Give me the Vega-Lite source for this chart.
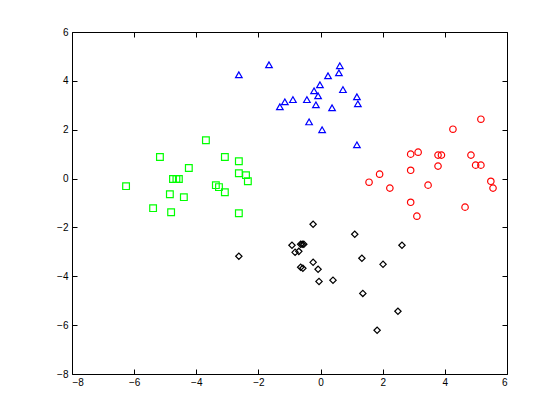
{
  "$schema": "https://vega.github.io/schema/vega-lite/v6.json",
  "width": 435,
  "height": 342,
  "autosize": {"type": "none"},
  "padding": {"left": 72, "top": 32, "right": 53, "bottom": 46},
  "background": "white",
  "config": {
    "view": {"stroke": "black", "strokeWidth": 1},
    "axis": {
      "domain": false,
      "grid": false,
      "tickColor": "black",
      "tickSize": -5,
      "labelFont": "Liberation Sans",
      "labelFontSize": 10,
      "labelColor": "black",
      "title": null
    }
  },
  "data": {
    "values": [
      {"x": -3.69, "y": 1.57, "g": "sq"},
      {"x": -5.17, "y": 0.88, "g": "sq"},
      {"x": -3.08, "y": 0.88, "g": "sq"},
      {"x": -2.63, "y": 0.71, "g": "sq"},
      {"x": -4.24, "y": 0.43, "g": "sq"},
      {"x": -2.63, "y": 0.22, "g": "sq"},
      {"x": -2.40, "y": 0.14, "g": "sq"},
      {"x": -2.34, "y": -0.11, "g": "sq"},
      {"x": -4.75, "y": -0.02, "g": "sq"},
      {"x": -4.64, "y": -0.02, "g": "sq"},
      {"x": -4.56, "y": -0.02, "g": "sq"},
      {"x": -6.26, "y": -0.31, "g": "sq"},
      {"x": -3.37, "y": -0.27, "g": "sq"},
      {"x": -3.27, "y": -0.35, "g": "sq"},
      {"x": -3.08, "y": -0.56, "g": "sq"},
      {"x": -4.85, "y": -0.64, "g": "sq"},
      {"x": -4.40, "y": -0.76, "g": "sq"},
      {"x": -5.39, "y": -1.21, "g": "sq"},
      {"x": -4.81, "y": -1.38, "g": "sq"},
      {"x": -2.63, "y": -1.42, "g": "sq"},
      {"x": -1.66, "y": 4.66, "g": "tri"},
      {"x": -2.63, "y": 4.25, "g": "tri"},
      {"x": 0.62, "y": 4.62, "g": "tri"},
      {"x": 0.59, "y": 4.33, "g": "tri"},
      {"x": 0.24, "y": 4.21, "g": "tri"},
      {"x": -0.02, "y": 3.84, "g": "tri"},
      {"x": -0.21, "y": 3.59, "g": "tri"},
      {"x": 0.72, "y": 3.64, "g": "tri"},
      {"x": -0.08, "y": 3.39, "g": "tri"},
      {"x": 1.17, "y": 3.35, "g": "tri"},
      {"x": 1.20, "y": 3.06, "g": "tri"},
      {"x": -0.89, "y": 3.23, "g": "tri"},
      {"x": -1.15, "y": 3.14, "g": "tri"},
      {"x": -1.31, "y": 2.94, "g": "tri"},
      {"x": -0.44, "y": 3.23, "g": "tri"},
      {"x": -0.15, "y": 3.02, "g": "tri"},
      {"x": 0.37, "y": 2.90, "g": "tri"},
      {"x": -0.37, "y": 2.32, "g": "tri"},
      {"x": 0.05, "y": 2.00, "g": "tri"},
      {"x": 1.17, "y": 1.38, "g": "tri"},
      {"x": 5.16, "y": 2.43, "g": "cir"},
      {"x": 4.26, "y": 2.02, "g": "cir"},
      {"x": 2.90, "y": 1.00, "g": "cir"},
      {"x": 3.14, "y": 1.08, "g": "cir"},
      {"x": 3.78, "y": 0.96, "g": "cir"},
      {"x": 3.89, "y": 0.96, "g": "cir"},
      {"x": 4.84, "y": 0.96, "g": "cir"},
      {"x": 4.99, "y": 0.55, "g": "cir"},
      {"x": 5.16, "y": 0.55, "g": "cir"},
      {"x": 3.78, "y": 0.51, "g": "cir"},
      {"x": 2.90, "y": 0.34, "g": "cir"},
      {"x": 1.90, "y": 0.18, "g": "cir"},
      {"x": 1.56, "y": -0.15, "g": "cir"},
      {"x": 2.23, "y": -0.39, "g": "cir"},
      {"x": 3.46, "y": -0.27, "g": "cir"},
      {"x": 5.48, "y": -0.11, "g": "cir"},
      {"x": 5.55, "y": -0.39, "g": "cir"},
      {"x": 2.90, "y": -0.97, "g": "cir"},
      {"x": 4.65, "y": -1.17, "g": "cir"},
      {"x": 3.10, "y": -1.54, "g": "cir"},
      {"x": -0.24, "y": -1.87, "g": "dia"},
      {"x": 1.10, "y": -2.28, "g": "dia"},
      {"x": 2.62, "y": -2.73, "g": "dia"},
      {"x": -0.92, "y": -2.73, "g": "dia"},
      {"x": -0.64, "y": -2.69, "g": "dia"},
      {"x": -0.59, "y": -2.69, "g": "dia"},
      {"x": -0.54, "y": -2.69, "g": "dia"},
      {"x": -0.82, "y": -3.02, "g": "dia"},
      {"x": -0.70, "y": -2.98, "g": "dia"},
      {"x": -2.63, "y": -3.18, "g": "dia"},
      {"x": 1.33, "y": -3.26, "g": "dia"},
      {"x": -0.24, "y": -3.43, "g": "dia"},
      {"x": 2.01, "y": -3.51, "g": "dia"},
      {"x": -0.08, "y": -3.71, "g": "dia"},
      {"x": -0.64, "y": -3.63, "g": "dia"},
      {"x": -0.57, "y": -3.67, "g": "dia"},
      {"x": -0.05, "y": -4.21, "g": "dia"},
      {"x": 0.40, "y": -4.16, "g": "dia"},
      {"x": 1.36, "y": -4.70, "g": "dia"},
      {"x": 2.49, "y": -5.43, "g": "dia"},
      {"x": 1.82, "y": -6.21, "g": "dia"}
    ]
  },
  "layer": [
    {
      "mark": {"type": "point", "filled": false, "strokeWidth": 1.2, "opacity": 1},
      "encoding": {
        "x": {"field": "x", "type": "quantitative", "scale": {"domain": [-8, 6], "nice": false, "zero": false},
              "axis": {"orient": "bottom", "values": [-8, -6, -4, -2, 0, 2, 4, 6], "labelPadding": 8}},
        "y": {"field": "y", "type": "quantitative", "scale": {"domain": [-8, 6], "nice": false, "zero": false},
              "axis": {"orient": "left", "values": [-8, -6, -4, -2, 0, 2, 4, 6], "labelPadding": 9}},
        "shape": {"field": "g", "type": "nominal", "legend": null,
                  "scale": {"domain": ["sq", "tri", "cir", "dia"], "range": ["square", "triangle-up", "circle", "diamond"]}},
        "color": {"field": "g", "type": "nominal", "legend": null,
                  "scale": {"domain": ["sq", "tri", "cir", "dia"], "range": ["#00ff00", "#0000ff", "#ff0000", "#000000"]}},
        "size": {"field": "g", "type": "nominal", "legend": null,
                 "scale": {"domain": ["sq", "tri", "cir", "dia"], "range": [45, 40, 55, 45]}}
      }
    },
    {
      "mark": {"type": "point", "opacity": 0},
      "encoding": {
        "x": {"field": "x", "type": "quantitative", "scale": {"domain": [-8, 6], "nice": false, "zero": false},
              "axis": {"orient": "top", "values": [-8, -6, -4, -2, 0, 2, 4, 6], "labels": false}},
        "y": {"field": "y", "type": "quantitative", "scale": {"domain": [-8, 6], "nice": false, "zero": false},
              "axis": {"orient": "right", "values": [-8, -6, -4, -2, 0, 2, 4, 6], "labels": false}}
      }
    }
  ],
  "resolve": {"axis": {"x": "independent", "y": "independent"}}
}
